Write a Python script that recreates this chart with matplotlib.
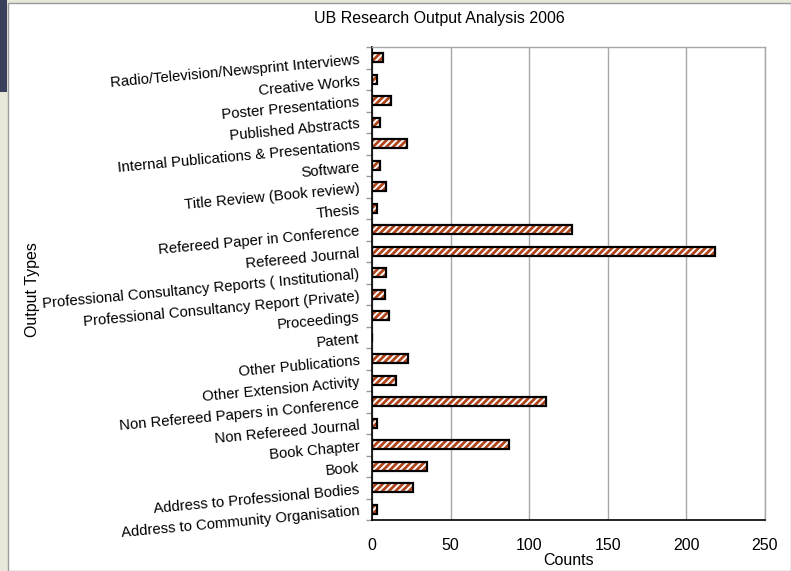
import matplotlib
matplotlib.use("Agg")
import matplotlib.pyplot as plt
from matplotlib.patches import Rectangle
import matplotlib.transforms as mtransforms

plt.rcParams['font.family'] = ['Liberation Sans', 'DejaVu Sans']
plt.rcParams['hatch.linewidth'] = 2.0

categories = [
    "Radio/Television/Newsprint Interviews",
    "Creative Works",
    "Poster Presentations",
    "Published Abstracts",
    "Internal Publications & Presentations",
    "Software",
    "Title Review (Book review)",
    "Thesis",
    "Refereed Paper in Conference",
    "Refereed Journal",
    "Professional Consultancy Reports ( Institutional)",
    "Professional Consultancy Report (Private)",
    "Proceedings",
    "Patent",
    "Other Publications",
    "Other Extension Activity",
    "Non Refereed Papers in Conference",
    "Non Refereed Journal",
    "Book Chapter",
    "Book",
    "Address to Professional Bodies",
    "Address to Community Organisation",
]
counts = [7, 3, 12, 5, 22, 5, 9, 3, 127, 218, 9, 8, 11, 0, 23, 15, 111, 3, 87, 35, 26, 3]
x_ticks = [0, 50, 100, 150, 200, 250]

fig = plt.figure(figsize=(7.91, 5.71), dpi=100, facecolor='#E8E7DA')

# white chart area and the dark corner strip of the slide background
fig.patches.append(Rectangle((8 / 791, 0), 1 - 8 / 791, 1 - 3 / 571, transform=fig.transFigure,
                             facecolor='white', edgecolor='#9A9A9A', linewidth=1, zorder=-2))
fig.patches.append(Rectangle((0, 1 - 92 / 571), 7 / 791, 92 / 571, transform=fig.transFigure,
                             facecolor='#3A3F5C', edgecolor='none', zorder=-2))

ax = fig.add_axes([372 / 791, 1 - 520 / 571, 393 / 791, 473 / 571])
ax.set_zorder(1)
ax.set_facecolor('white')

pos = list(range(len(categories)))
ax.barh(pos, counts, height=0.42, color='white', edgecolor='#B0441A', hatch='/////', linewidth=0, zorder=3)
ax.barh(pos, counts, height=0.42, fill=False, edgecolor='black', linewidth=1.6, zorder=4)

ax.set_xlim(0, 250)
ax.set_ylim(len(categories) - 0.5, -0.5)
ax.set_xticks(x_ticks)
ax.set_yticks(pos)
ax.set_yticks([p - 0.5 for p in pos] + [len(categories) - 0.5], minor=True)
ax.set_yticklabels(categories)

ax.grid(axis='x', color='#A8A8A8', linewidth=1, zorder=0)
ax.tick_params(axis='x', length=0, pad=13, labelsize=11.5)
ax.tick_params(axis='y', which='major', length=0, pad=9, labelsize=10.7)
ax.tick_params(axis='y', which='minor', length=4, color='#999999', width=1)

offset = mtransforms.ScaledTranslation(0, -2 / 100, fig.dpi_scale_trans)
for lab in ax.get_yticklabels():
    lab.set_rotation(5.3)
    lab.set_rotation_mode('anchor')
    lab.set_ha('right')
    lab.set_va('center')
    lab.set_transform(lab.get_transform() + offset)

for side in ['top', 'right']:
    ax.spines[side].set_color('#A8A8A8')
    ax.spines[side].set_linewidth(1)
for side in ['left', 'bottom']:
    ax.spines[side].set_color('black')
    ax.spines[side].set_linewidth(1.2)

ax.set_xlabel("Counts", fontsize=11.5, labelpad=0)
fig.text(33 / 791, 1 - 290 / 571, "Output Types", rotation=90, ha='center', va='center', fontsize=11.5)
fig.text(439 / 791, 1 - 18 / 571, "UB Research Output Analysis 2006", ha='center', va='center', fontsize=11.5)

fig.savefig("out.png", dpi=100, facecolor=fig.get_facecolor())
